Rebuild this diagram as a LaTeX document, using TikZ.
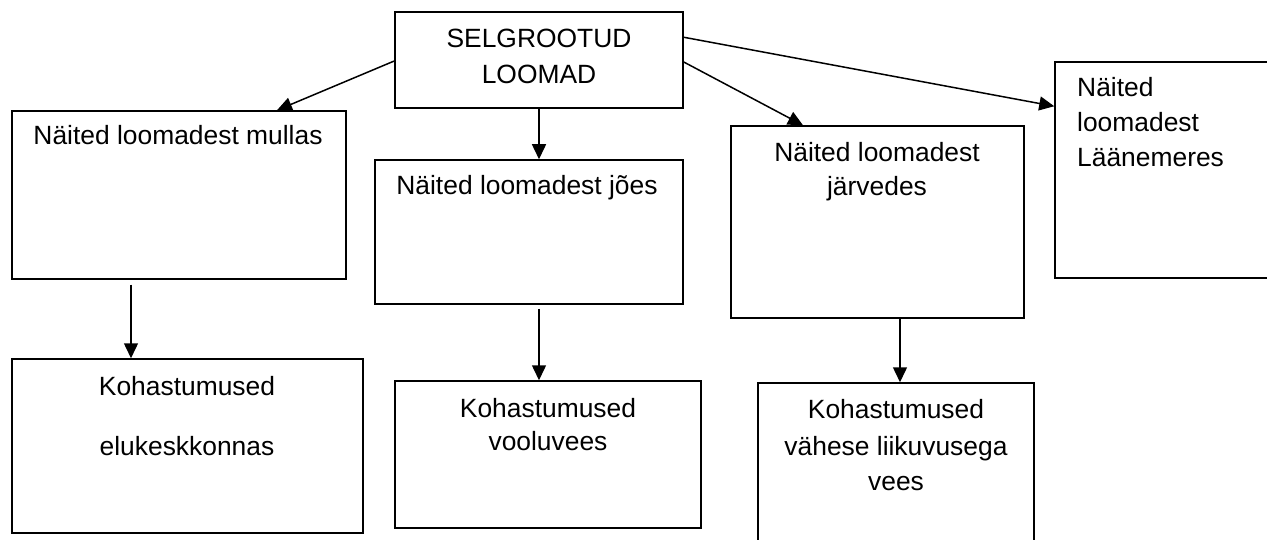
\documentclass[tikz,border=0pt]{standalone}
\usepackage{fontspec}
\setmainfont{Liberation Sans}
\usetikzlibrary{arrows.meta}
\begin{document}
\begin{tikzpicture}[x=1pt,y=-1pt,
  box/.style={draw,line width=1.5pt,rectangle,inner sep=0pt},
  txt/.style={font=\fontsize{26.4}{32}\selectfont,anchor=base,inner sep=0pt},
  ltxt/.style={font=\fontsize{26.4}{32}\selectfont,anchor=base west,inner sep=0pt},
  arr/.style={line width=1.5pt,-{Triangle[length=15pt,width=14pt]}}]
\useasboundingbox[fill=white] (0,0) rectangle (1267,540);
% boxes
\node[box,minimum width=288pt,minimum height=96pt] (T) at (539,60) {};
\node[box,minimum width=334pt,minimum height=168pt] (b1) at (179,195) {};
\node[box,minimum width=308pt,minimum height=144pt] (b2) at (529,232) {};
\node[box,minimum width=293pt,minimum height=192pt] (b3) at (877.5,222) {};
\node[box,minimum width=230pt,minimum height=216pt] (b4) at (1170,170) {};
\node[box,minimum width=351pt,minimum height=174pt] (b5) at (187.5,446) {};
\node[box,minimum width=306pt,minimum height=147pt] (b6) at (548,454.5) {};
\node[box,minimum width=276pt,minimum height=174pt] (b7) at (896,470) {};
% texts
\node[txt] (t1) at (539,48) {SELGROOTUD};
\node[txt] (t2) at (539,84) {LOOMAD};
\node[txt] (t3) at (178,145) {Näited loomadest mullas};
\node[txt] (t4) at (527,195) {Näited loomadest jões};
\node[txt] (t5) at (877,162) {Näited loomadest};
\node[txt] (t6) at (877,196) {järvedes};
\node[ltxt] (t7) at (1077,97) {Näited};
\node[ltxt] (t8) at (1077,132) {loomadest};
\node[ltxt] (t9) at (1077,167) {Läänemeres};
\node[txt] (t10) at (187,395) {Kohastumused};
\node[txt] (t11) at (187,455) {elukeskkonnas};
\node[txt] (t12) at (548,417) {Kohastumused};
\node[txt] (t13) at (548,450) {vooluvees};
\node[txt] (t14) at (896,418) {Kohastumused};
\node[txt] (t15) at (896,455) {vähese liikuvusega};
\node[txt] (t16) at (896,490) {vees};
% connectors
\draw[arr] ([yshift=-1pt]T.west) -- ([xshift=98pt]b1.north);
\draw[arr] (T.south) -- (T.south |- b2.north);
\draw[arr] ([yshift=-2pt]T.east) -- ([xshift=-74.5pt]b3.north);
\draw[arr] ([yshift=-26pt]T.north east) -- ([yshift=-45pt]b4.north west);
\draw[arr] ([xshift=-48pt,yshift=-5pt]b1.south) -- ([xshift=-48pt]b1.south |- b5.north);
\draw[arr] ([xshift=10pt,yshift=-4pt]b2.south) -- ([xshift=10pt]b2.south |- b6.north);
\draw[arr] ([xshift=22.5pt]b3.south) -- ([xshift=22.5pt]b3.south |- b7.north);
\end{tikzpicture}
\end{document}
